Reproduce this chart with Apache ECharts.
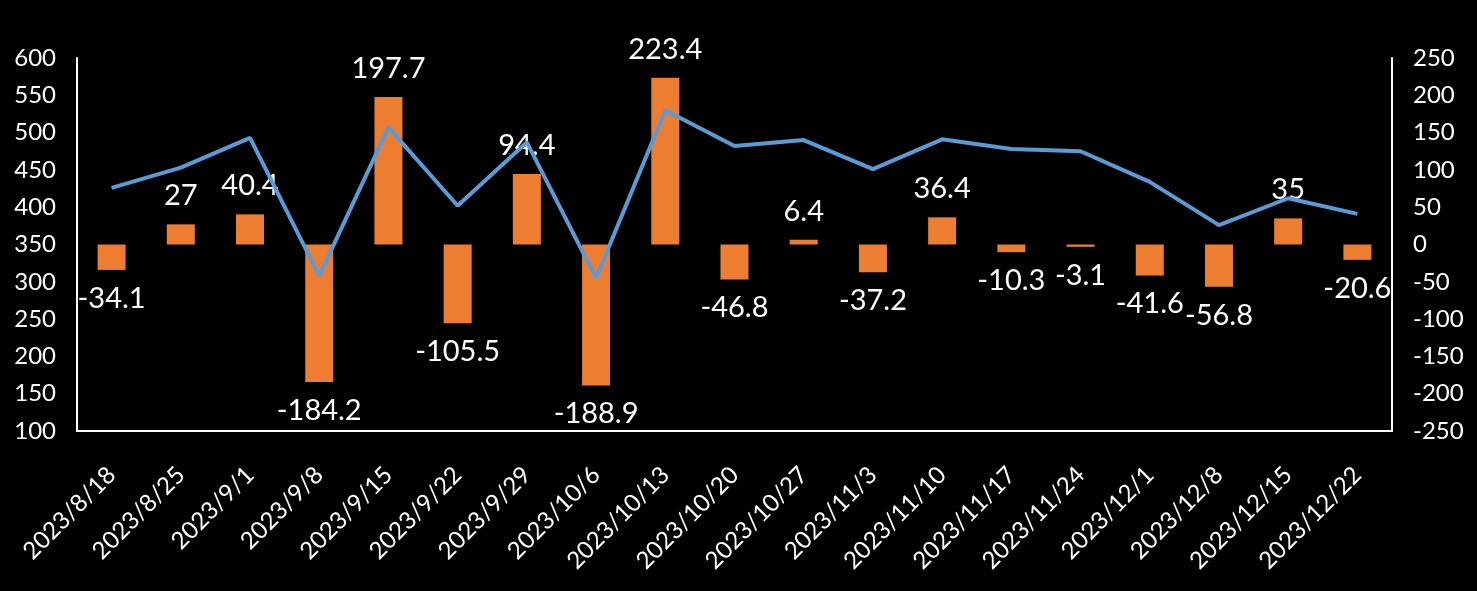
<!DOCTYPE html>
<html>
<head>
<meta charset="utf-8">
<style>
html,body{margin:0;padding:0;background:#000;}
#c{width:1477px;height:591px;}
</style>
<script src="https://cdn.jsdelivr.net/npm/echarts@6/dist/echarts.min.js"></script>
</head>
<body>
<div id="c"></div>
<script>
const categories = ['2023/8/18','2023/8/25','2023/9/1','2023/9/8','2023/9/15','2023/9/22','2023/9/29','2023/10/6','2023/10/13','2023/10/20','2023/10/27','2023/11/3','2023/11/10','2023/11/17','2023/11/24','2023/12/1','2023/12/8','2023/12/15','2023/12/22'];
const barValues = [-34.1, 27, 40.4, -184.2, 197.7, -105.5, 94.4, -188.9, 223.4, -46.8, 6.4, -37.2, 36.4, -10.3, -3.1, -41.6, -56.8, 35, -20.6];
const lineValues = [426, 453, 493, 308, 507, 402, 487, 305, 530, 482, 490, 451, 491, 478, 475, 434, 376, 412, 391];

const FONT = 'Lato';
const chart = echarts.init(document.getElementById('c'), null, {renderer: 'canvas'});
const barData = barValues.map(v => ({
  value: v,
  label: {position: v >= 0 ? 'top' : 'bottom'}
}));
chart.setOption({
  backgroundColor: '#000000',
  animation: false,
  grid: {left: 77, right: 85, top: 58, bottom: 160},
  xAxis: {
    type: 'category',
    data: categories,
    axisLine: {show: true, onZero: false, lineStyle: {color: '#ffffff', width: 2}},
    axisTick: {show: false},
    axisLabel: {color: '#ffffff', fontFamily: FONT, fontSize: 24, rotate: 45, margin: 40, interval: 0}
  },
  yAxis: [
    {
      type: 'value', min: 100, max: 600, interval: 50, position: 'left',
      axisLine: {show: true, lineStyle: {color: '#ffffff', width: 2}},
      axisTick: {show: false},
      splitLine: {show: false},
      axisLabel: {color: '#ffffff', fontFamily: FONT, fontSize: 24, margin: 21}
    },
    {
      type: 'value', min: -250, max: 250, interval: 50, position: 'right',
      axisLine: {show: true, lineStyle: {color: '#ffffff', width: 2}},
      axisTick: {show: false},
      splitLine: {show: false},
      axisLabel: {color: '#ffffff', fontFamily: FONT, fontSize: 24, margin: 21}
    }
  ],
  series: [
    {
      type: 'bar',
      yAxisIndex: 1,
      data: barData,
      barWidth: 28,
      itemStyle: {color: '#ED7D31'},
      label: {show: true, color: '#ffffff', fontFamily: FONT, fontSize: 29, distance: 14}
    },
    {
      type: 'line',
      yAxisIndex: 0,
      data: lineValues,
      symbol: 'none',
      lineStyle: {color: '#5B9BD5', width: 4},
      z: 3
    }
  ]
});
</script>
</body>
</html>
